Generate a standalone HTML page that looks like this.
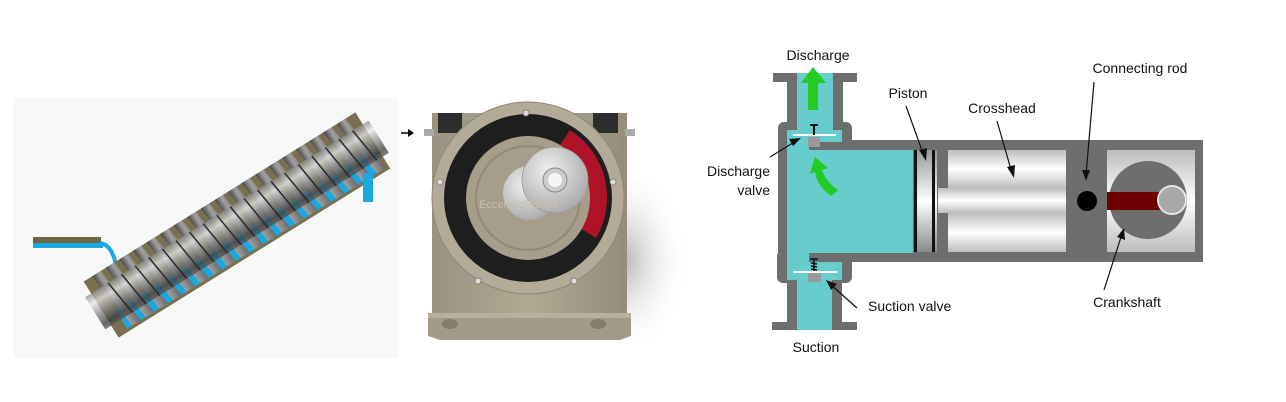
<!DOCTYPE html>
<html><head><meta charset="utf-8"><style>
html,body{margin:0;padding:0;background:#fff;}
svg{display:block;}
text{font-family:"Liberation Sans",Arial,sans-serif;font-size:14px;fill:#111;}
</style></head><body>
<svg width="1286" height="402" viewBox="0 0 1286 402" xmlns="http://www.w3.org/2000/svg">
<defs>
<linearGradient id="tube" x1="0" y1="0" x2="0" y2="1">
<stop offset="0" stop-color="#8a8a8a"/><stop offset="0.25" stop-color="#e8e8e8"/><stop offset="0.55" stop-color="#8a8a8a"/><stop offset="0.85" stop-color="#3a3a3a"/><stop offset="1" stop-color="#555"/>
</linearGradient>
<linearGradient id="blade" x1="0" y1="0" x2="1" y2="0">
<stop offset="0" stop-color="#444"/><stop offset="0.4" stop-color="#a0a0a0"/><stop offset="1" stop-color="#6a6a6a"/>
</linearGradient>
<linearGradient id="metal" x1="0" y1="0" x2="0" y2="1">
<stop offset="0" stop-color="#bdbdbd"/><stop offset="0.5" stop-color="#ffffff"/><stop offset="1" stop-color="#bdbdbd"/>
</linearGradient>
<linearGradient id="piston" x1="0" y1="0" x2="0" y2="1">
<stop offset="0" stop-color="#9a9a9a"/><stop offset="0.5" stop-color="#ffffff"/><stop offset="1" stop-color="#8a8a8a"/>
</linearGradient>
<radialGradient id="shadow" cx="0.3" cy="0.5" r="0.6">
<stop offset="0" stop-color="#b5b5b5"/><stop offset="1" stop-color="#ffffff" stop-opacity="0"/>
</radialGradient>
<radialGradient id="disc" cx="0.4" cy="0.35" r="0.7">
<stop offset="0" stop-color="#f0f0f0"/><stop offset="1" stop-color="#a8a8a8"/>
</radialGradient>
<linearGradient id="body" x1="0" y1="0" x2="1" y2="0">
<stop offset="0" stop-color="#9b9380"/><stop offset="0.5" stop-color="#b1a994"/><stop offset="1" stop-color="#958d7a"/>
</linearGradient>
</defs>

<!-- LEFT: screw pump -->
<rect x="13" y="97" width="385" height="261" fill="#f7f8f8"/>
<rect x="33" y="237" width="68" height="6" fill="#6e6446"/>
<rect x="33" y="243" width="70" height="5" fill="#19a8e0"/>
<path d="M100 243 Q116 245 118 282" stroke="#19a8e0" stroke-width="4" fill="none"/>
<g transform="translate(237,225) rotate(-31.9)">
<rect x="-160" y="-33" width="320" height="66" fill="#7a6f4f"/>
<rect x="-148" y="8" width="303" height="22" fill="#19a8e0"/>
<g fill="url(#blade)">
<path d="M-150 -33 l10 0 l8 63 l-10 0z"/><path d="M-134 -33 l10 0 l8 63 l-10 0z"/><path d="M-118 -33 l10 0 l8 63 l-10 0z"/><path d="M-102 -33 l10 0 l8 63 l-10 0z"/><path d="M-86 -33 l10 0 l8 63 l-10 0z"/><path d="M-70 -33 l10 0 l8 63 l-10 0z"/><path d="M-54 -33 l10 0 l8 63 l-10 0z"/><path d="M-38 -33 l10 0 l8 63 l-10 0z"/><path d="M-22 -33 l10 0 l8 63 l-10 0z"/><path d="M-6 -33 l10 0 l8 63 l-10 0z"/><path d="M10 -33 l10 0 l8 63 l-10 0z"/><path d="M26 -33 l10 0 l8 63 l-10 0z"/><path d="M42 -33 l10 0 l8 63 l-10 0z"/><path d="M58 -33 l10 0 l8 63 l-10 0z"/><path d="M74 -33 l10 0 l8 63 l-10 0z"/><path d="M90 -33 l10 0 l8 63 l-10 0z"/><path d="M106 -33 l10 0 l8 63 l-10 0z"/><path d="M122 -33 l10 0 l8 63 l-10 0z"/><path d="M138 -33 l10 0 l8 63 l-10 0z"/>
</g>
<rect x="-167" y="-19" width="334" height="38" fill="url(#tube)" opacity="0.75"/>
<g stroke="#2a2a2a" stroke-width="1.5">
<line x1="-140" y1="-19" x2="-135" y2="19"/><line x1="-124" y1="-19" x2="-119" y2="19"/><line x1="-108" y1="-19" x2="-103" y2="19"/><line x1="-92" y1="-19" x2="-87" y2="19"/><line x1="-76" y1="-19" x2="-71" y2="19"/><line x1="-60" y1="-19" x2="-55" y2="19"/><line x1="-44" y1="-19" x2="-39" y2="19"/><line x1="-28" y1="-19" x2="-23" y2="19"/><line x1="-12" y1="-19" x2="-7" y2="19"/><line x1="4" y1="-19" x2="9" y2="19"/><line x1="20" y1="-19" x2="25" y2="19"/><line x1="36" y1="-19" x2="41" y2="19"/><line x1="52" y1="-19" x2="57" y2="19"/><line x1="68" y1="-19" x2="73" y2="19"/><line x1="84" y1="-19" x2="89" y2="19"/><line x1="100" y1="-19" x2="105" y2="19"/><line x1="116" y1="-19" x2="121" y2="19"/><line x1="132" y1="-19" x2="137" y2="19"/><line x1="148" y1="-19" x2="153" y2="19"/>
</g>
</g>
<rect x="363" y="173" width="10" height="29" fill="#19a8e0"/>
<path d="M401 133 L410 133" stroke="#000" stroke-width="1.5"/><path d="M408 129 L414 133 L408 137z" fill="#000"/>

<!-- MIDDLE: peristaltic pump -->
<ellipse cx="645" cy="260" rx="55" ry="80" fill="url(#shadow)"/>
<path d="M432 113 L627 113 L627 313 L432 313 Z" fill="url(#body)"/>
<path d="M428 313 L631 313 L631 336 L620 340 L440 340 L428 336Z" fill="#a39b87"/>
<rect x="428" y="313" width="203" height="5" fill="#b8b09c"/>
<ellipse cx="450" cy="324" rx="8" ry="5" fill="#857d6a"/><ellipse cx="598" cy="324" rx="8" ry="5" fill="#857d6a"/>
<rect x="424" y="129" width="10" height="7" fill="#aaa"/><rect x="625" y="129" width="10" height="7" fill="#aaa"/>
<rect x="438" y="113" width="24" height="20" fill="#2d2d2d"/><rect x="593" y="113" width="25" height="20" fill="#2d2d2d"/>
<circle cx="528" cy="198" r="96" fill="#b3ab97" stroke="#8f8775" stroke-width="1"/>
<circle cx="528" cy="198" r="84" fill="#1e1e1e"/>
<path d="M570 130 A80 80 0 0 1 596 238 L580 228 A62 62 0 0 0 558 148Z" fill="#b0122a"/>
<circle cx="528" cy="198" r="62" fill="#a69e8a"/>
<circle cx="528" cy="198" r="52" fill="none" stroke="#928a77" stroke-width="2"/>
<circle cx="530" cy="193" r="27" fill="url(#disc)"/>
<circle cx="555" cy="180" r="33" fill="url(#disc)" stroke="#999" stroke-width="0.8"/>
<circle cx="555" cy="180" r="12" fill="#ccc" stroke="#888"/>
<circle cx="555" cy="180" r="7" fill="#f5f5f5"/>
<g fill="#ddd" stroke="#777" stroke-width="0.8"><circle cx="526" cy="113" r="3"/><circle cx="440" cy="182" r="3"/><circle cx="613" cy="182" r="3"/><circle cx="478" cy="281" r="3"/><circle cx="574" cy="281" r="3"/></g>
<text x="479" y="208" style="font-size:11px;fill:#c8c0ad">EccentricPumps</text>

<!-- RIGHT: reciprocating pump -->
<g fill="#6e6e6e">
<rect x="773" y="73" width="84" height="9"/>
<rect x="787" y="82" width="56" height="42"/>
<rect x="778" y="122" width="74" height="30" rx="6"/>
<rect x="778" y="140" width="425" height="122"/>
<rect x="777" y="250" width="75" height="33" rx="6"/>
<rect x="787" y="280" width="55" height="43"/>
<rect x="772" y="322" width="85" height="8"/>
</g>
<g fill="#66cccc">
<rect x="797" y="73" width="36" height="60"/>
<rect x="787" y="130" width="55" height="12"/>
<rect x="787" y="142" width="22" height="10"/>
<rect x="787" y="150" width="126" height="103"/>
<rect x="787" y="253" width="22" height="10"/>
<rect x="787" y="262" width="55" height="18"/>
<rect x="797" y="278" width="35" height="52"/>
</g>
<rect x="818" y="142" width="35" height="8" fill="#6e6e6e"/>
<rect x="818" y="253" width="35" height="9" fill="#6e6e6e"/>
<line x1="793" y1="135" x2="836" y2="135" stroke="#fff" stroke-width="2"/>
<rect x="808" y="137" width="12" height="10" fill="#9a9a9a"/>
<path d="M814 125 L814 135 M810 125 L818 125" stroke="#111" stroke-width="2"/>
<line x1="793" y1="272" x2="837" y2="272" stroke="#fff" stroke-width="2"/>
<rect x="808" y="273" width="13" height="9" fill="#9a9a9a"/>
<path d="M814 259 L814 271 M810 259 L818 259 M811 263 L817 264 M811 266 L817 267 M811 269 L817 270" stroke="#111" stroke-width="1.5"/>
<path d="M813 67 L826 83 L818 83 L818 110 L808 110 L808 83 L801 83Z" fill="#22cc22"/>
<path d="M815 157 L828 168 L822 170 Q826 182 838 190 L831 196 Q817 186 815 172 L810 174Z" fill="#22cc22"/>
<rect x="916" y="150" width="21" height="102" fill="url(#piston)"/>
<rect x="914" y="150" width="3" height="102" fill="#111"/>
<rect x="932" y="150" width="3" height="102" fill="#111"/>
<rect x="948" y="150" width="118" height="38" fill="url(#metal)"/>
<rect x="938" y="188" width="128" height="25" fill="url(#metal)"/>
<rect x="948" y="213" width="118" height="39" fill="url(#metal)"/>
<circle cx="1087" cy="201" r="10" fill="#000"/>
<rect x="1107" y="150" width="88" height="102" fill="url(#metal)"/>
<circle cx="1148" cy="200" r="39" fill="#6e6e6e"/>
<rect x="1107" y="192" width="56" height="18" fill="#6d0000"/>
<circle cx="1172" cy="200" r="14" fill="#a8a8a8" stroke="#e6e6e6" stroke-width="2"/>
<text x="818" y="60" text-anchor="middle">Discharge</text>
<text x="908" y="98" text-anchor="middle">Piston</text>
<text x="1002" y="113" text-anchor="middle">Crosshead</text>
<text x="1140" y="73" text-anchor="middle">Connecting rod</text>
<text x="770" y="176" text-anchor="end">Discharge</text>
<text x="770" y="195" text-anchor="end">valve</text>
<text x="868" y="311">Suction valve</text>
<text x="1127" y="307" text-anchor="middle">Crankshaft</text>
<text x="816" y="352" text-anchor="middle">Suction</text>
<g stroke="#111" stroke-width="1.2" fill="none">
<line x1="906" y1="106" x2="924" y2="156"/>
<line x1="997" y1="121" x2="1012" y2="173"/>
<line x1="1094" y1="82" x2="1086" y2="175"/>
<line x1="1104" y1="290" x2="1122" y2="234"/>
<line x1="770" y1="157" x2="796" y2="141"/>
<line x1="857" y1="308" x2="830" y2="284"/>
</g>
<g fill="#111">
<path d="M926 161 L919 150 L927 148Z"/>
<path d="M1014 178 L1007 167 L1015 165Z"/>
<path d="M1086 181 L1082 170 L1090 170Z"/>
<path d="M1124 228 L1125 240 L1117 237Z"/>
<path d="M801 138 L793 146 L789 139Z"/>
<path d="M826 280 L837 284 L831 290Z"/>
</g>
</svg>
</body></html>
